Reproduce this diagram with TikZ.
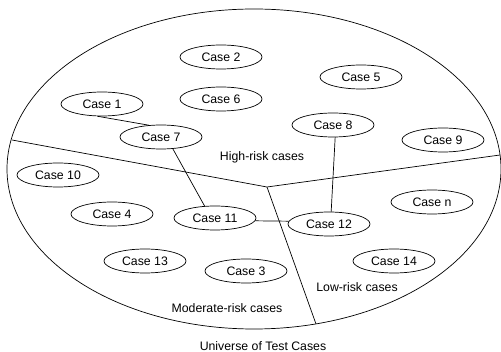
\documentclass[tikz,border=0pt]{standalone}
\usepackage{fontspec}
\setmainfont{Liberation Sans}
\usetikzlibrary{shapes.geometric}
\begin{document}
\begin{tikzpicture}[x=1pt,y=-1pt,
  casebox/.style={draw,ellipse,minimum width=82pt,minimum height=24pt,inner sep=0pt,font=\fontsize{12.3}{14}\selectfont},
  lbl/.style={font=\fontsize{12.3}{14}\selectfont,inner sep=0pt},
  every path/.style={line width=0.7pt}]
\useasboundingbox (0,0) rectangle (501,352);
\draw (254,169) ellipse [x radius=247, y radius=160];
\coordinate (mid) at (267,187);
\coordinate (lft) at (12,140);
\coordinate (rgt) at (500,155);
\coordinate (bot) at (316,324);
\draw (lft) -- (mid) -- (rgt);
\draw (mid) -- (bot);
\node[casebox] (c2) at (221,57) {Case 2};
\node[casebox] (c6) at (221,99) {Case 6};
\node[casebox] (c1) at (102,104) {Case 1};
\node[casebox] (c7) at (161,137) {Case 7};
\node[casebox] (c5) at (361,77) {Case 5};
\node[casebox] (c8) at (333,125) {Case 8};
\node[casebox] (c9) at (443,140) {Case 9};
\node[casebox] (c10) at (58,175) {Case 10};
\node[casebox] (c4) at (112,214) {Case 4};
\node[casebox] (c11) at (215,218) {Case 11};
\node[casebox] (c13) at (145,261) {Case 13};
\node[casebox] (c3) at (246,271) {Case 3};
\node[casebox] (c12) at (329,224) {Case 12};
\node[casebox] (cn) at (432,202) {Case n};
\node[casebox] (c14) at (394,261) {Case 14};
\node[lbl] (hr) at (262,157) {High-risk cases};
\node[lbl] (mr) at (227,308) {Moderate-risk cases};
\node[lbl] (lr) at (357,287) {Low-risk cases};
\node[lbl] (un) at (263,346) {Universe of Test Cases};
\draw (c1.250) -- (c7.136);
\draw (c7.-45) -- (c11.131);
\draw (c11.-4) -- (c12.176);
\draw (c8.280) -- (c12.80);
\end{tikzpicture}
\end{document}
